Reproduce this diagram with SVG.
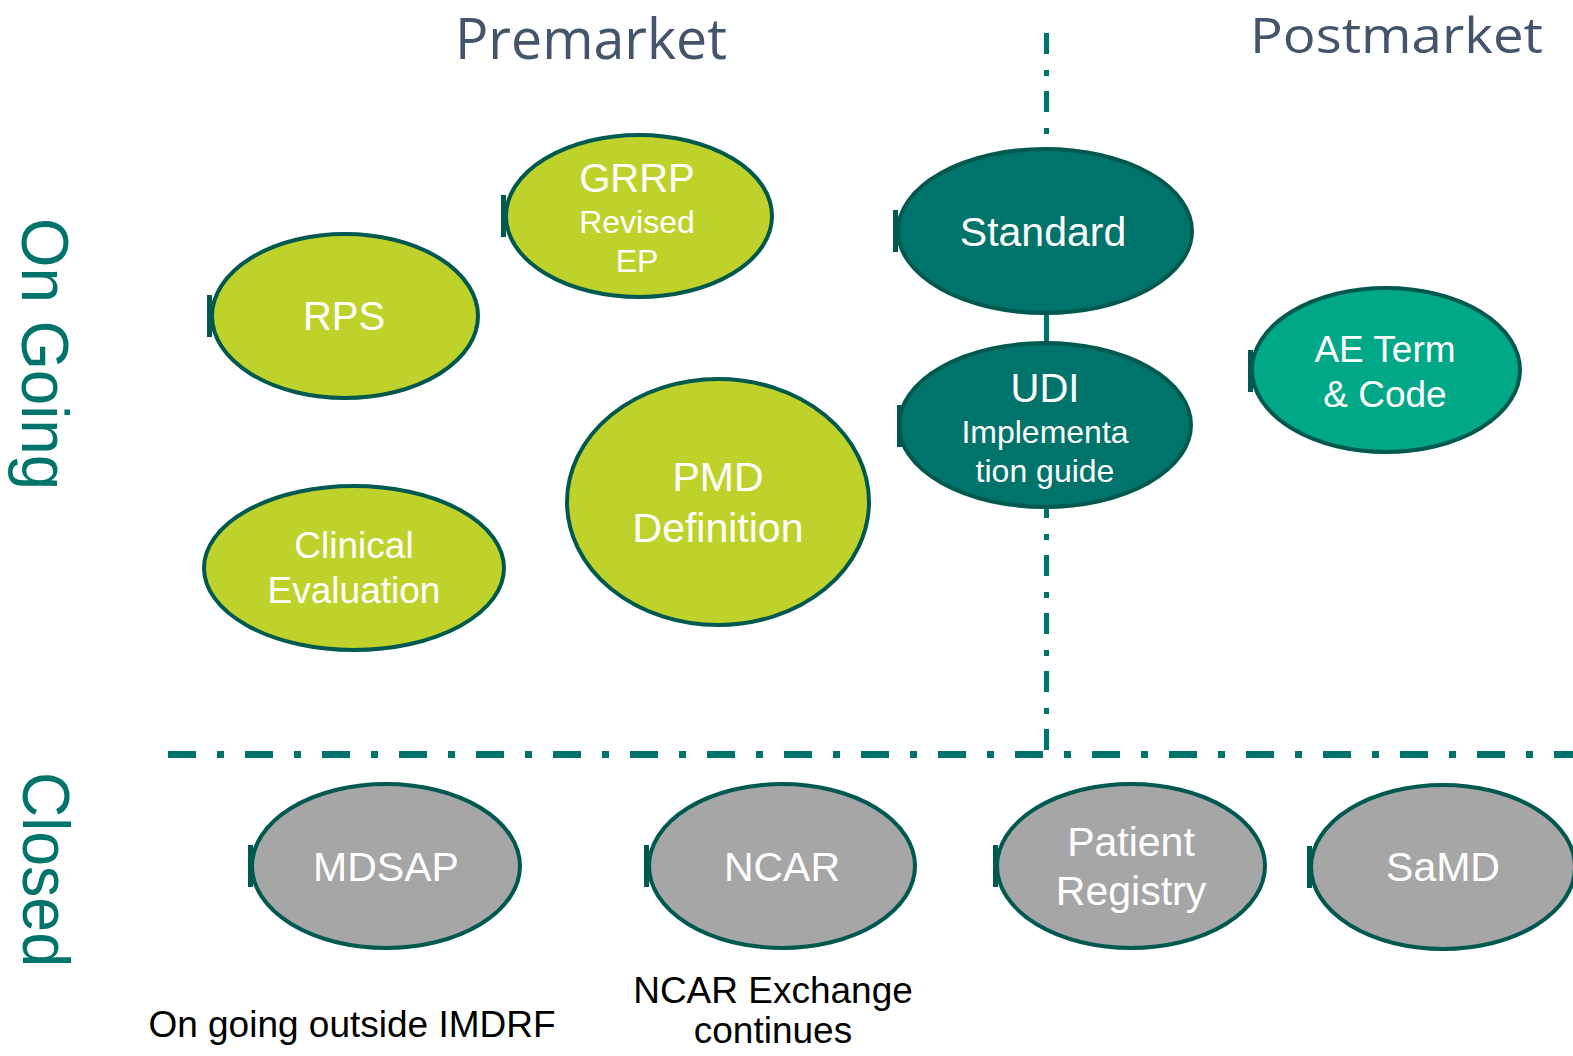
<svg xmlns="http://www.w3.org/2000/svg" width="1573" height="1056" viewBox="0 0 1573 1056">
<style>
.lime{fill:#BFD22B;stroke:#00594F;stroke-width:4}
.teal{fill:#00736A;stroke:#00594F;stroke-width:4}
.green{fill:#00A887;stroke:#00594F;stroke-width:4}
.grey{fill:#A6A6A6;stroke:#00594F;stroke-width:4}
.tick{fill:#00594F}
.lbl{font-family:"Liberation Sans",Arial,sans-serif;fill:#FFFFFF;text-anchor:middle}
.head{font-family:"Open Sans","Noto Sans",sans-serif;fill:#44546A;font-size:56px;text-anchor:middle}
.side{font-family:"Liberation Sans",Arial,sans-serif;fill:#00746A;font-size:66px}
.note{font-family:"Liberation Sans",Arial,sans-serif;fill:#000000;font-size:37px;text-anchor:middle}
</style>
<rect width="1573" height="1056" fill="#FFFFFF"/>
<g id="connectors" stroke="#00746A" fill="none">
<line x1="1046.5" y1="33" x2="1046.5" y2="752" stroke-width="5" stroke-dasharray="21 16 6 15"/>
<line x1="168" y1="754.5" x2="1573" y2="754.5" stroke-width="7" stroke-dasharray="28 21 7 21"/>
<line x1="1046.5" y1="312" x2="1046.5" y2="344" stroke-width="5"/>
</g>
<g id="headings">
<text class="head" x="591" y="59" textLength="272" lengthAdjust="spacingAndGlyphs">Premarket</text>
<text class="head" x="1396.5" y="53" font-size="50" style="font-size:50px" textLength="293" lengthAdjust="spacingAndGlyphs">Postmarket</text>
<text class="side" transform="translate(22,218) rotate(90)" textLength="272" lengthAdjust="spacingAndGlyphs">On Going</text>
<text class="side" transform="translate(23,772) rotate(90)" textLength="195" lengthAdjust="spacingAndGlyphs">Closed</text>
</g>
<g id="rps">
<ellipse class="lime" cx="345" cy="316" rx="133" ry="82"/>
<rect class="tick" x="207" y="295" width="5" height="42"/>
<text class="lbl" x="344" y="330" font-size="40">RPS</text>
</g>
<g id="grrp">
<ellipse class="lime" cx="639" cy="216" rx="133" ry="81"/>
<rect class="tick" x="501" y="195" width="5" height="42"/>
<text class="lbl" x="637" y="192" font-size="40">GRRP</text>
<text class="lbl" x="637" y="233" font-size="32">Revised</text>
<text class="lbl" x="637" y="272" font-size="32">EP</text>
</g>
<g id="standard">
<ellipse class="teal" cx="1045" cy="231" rx="147" ry="82"/>
<rect class="tick" x="893" y="210" width="5" height="42"/>
<text class="lbl" x="1043" y="246" font-size="41">Standard</text>
</g>
<g id="udi">
<ellipse class="teal" cx="1045" cy="425" rx="146" ry="82"/>
<rect class="tick" x="897" y="405" width="5" height="42"/>
<text class="lbl" x="1045" y="402" font-size="40">UDI</text>
<text class="lbl" x="1045" y="443" font-size="32">Implementa</text>
<text class="lbl" x="1045" y="482" font-size="32">tion guide</text>
</g>
<g id="ae-term">
<ellipse class="green" cx="1386" cy="370" rx="134" ry="82"/>
<rect class="tick" x="1248" y="350" width="5" height="42"/>
<text class="lbl" x="1385" y="362" font-size="37">AE Term</text>
<text class="lbl" x="1385" y="407" font-size="37">&amp; Code</text>
</g>
<g id="pmd">
<ellipse class="lime" cx="718" cy="502" rx="151" ry="123"/>
<text class="lbl" x="718" y="491" font-size="41">PMD</text>
<text class="lbl" x="718" y="542" font-size="41">Definition</text>
</g>
<g id="clinical">
<ellipse class="lime" cx="354" cy="568" rx="150" ry="82"/>
<text class="lbl" x="354" y="558" font-size="37">Clinical</text>
<text class="lbl" x="354" y="603" font-size="37">Evaluation</text>
</g>
<g id="mdsap">
<ellipse class="grey" cx="386" cy="866" rx="134" ry="82"/>
<rect class="tick" x="248" y="845" width="5" height="42"/>
<text class="lbl" x="386" y="881" font-size="41">MDSAP</text>
</g>
<g id="ncar">
<ellipse class="grey" cx="782" cy="866" rx="133" ry="82"/>
<rect class="tick" x="644" y="845" width="5" height="42"/>
<text class="lbl" x="782" y="881" font-size="41">NCAR</text>
</g>
<g id="patient-registry">
<ellipse class="grey" cx="1131" cy="866" rx="134" ry="82"/>
<rect class="tick" x="993" y="845" width="5" height="42"/>
<text class="lbl" x="1131" y="856" font-size="41">Patient</text>
<text class="lbl" x="1131" y="905" font-size="41">Registry</text>
</g>
<g id="samd">
<ellipse class="grey" cx="1443" cy="867" rx="132" ry="82"/>
<rect class="tick" x="1307" y="846" width="5" height="42"/>
<text class="lbl" x="1443" y="881" font-size="41">SaMD</text>
</g>
<g id="notes">
<text class="note" x="352" y="1037">On going outside IMDRF</text>
<text class="note" x="773" y="1003">NCAR Exchange</text>
<text class="note" x="773" y="1043">continues</text>
</g>
</svg>
